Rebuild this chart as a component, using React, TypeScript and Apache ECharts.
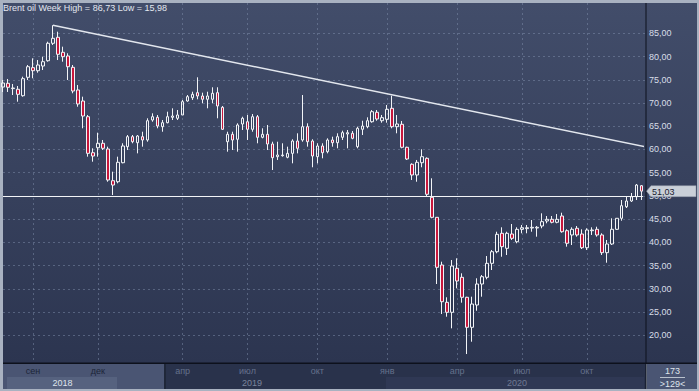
import React, { useEffect, useRef } from 'react';
import * as echarts from 'echarts';

// weekly OHLC (Brent oil)
const opens = [73.44,74.24,73.10,72.95,71.57,75.53,77.60,76.95,77.96,79.10,82.85,84.14,80.91,80.12,77.68,72.80,70.43,67.05,59.30,60.38,61.33,60.10,53.28,53.06,57.15,60.60,62.75,61.46,62.75,62.04,66.34,66.92,64.90,65.76,66.92,66.71,67.42,70.43,71.14,72.22,71.51,70.80,70.80,72.22,69.07,61.67,63.26,62.19,65.48,65.97,64.34,67.05,62.62,63.26,61.18,58.45,58.66,58.32,59.17,61.82,62.04,64.90,61.82,58.45,60.75,59.52,62.04,61.46,62.62,63.33,63.48,60.60,64.34,64.90,65.97,68.00,66.19,66.49,68.86,64.90,65.42,60.47,56.81,54.51,57.15,58.10,49.71,45.40,35.14,27.11,24.96,34.43,32.49,28.19,21.73,26.53,31.05,32.49,35.50,38.00,41.96,38.73,41.81,40.15,42.81,42.97,43.10,43.10,43.53,44.61,44.97,44.33,45.68,42.52,41.60,43.04,41.81,38.86,42.52,42.82,41.60,37.79,39.66,42.82,45.19,47.68,48.91,49.84,52.20];
const closes = [74.30,73.38,73.23,71.87,75.23,77.81,76.95,78.18,78.89,82.85,83.92,80.48,79.97,77.81,72.58,69.79,67.20,59.17,58.59,61.33,60.25,53.43,52.35,57.24,60.75,62.75,61.67,62.90,62.04,66.19,67.05,65.05,65.76,67.05,67.20,67.42,70.28,71.36,71.87,71.51,70.80,71.51,72.09,69.36,64.34,63.26,62.04,65.27,66.71,64.34,67.05,62.62,63.26,61.18,58.23,58.81,58.81,59.17,61.82,60.25,64.90,61.67,58.59,60.75,59.30,62.04,61.46,62.75,63.61,63.61,62.40,64.56,65.05,66.19,68.13,66.56,66.84,68.64,64.90,65.48,60.47,57.95,54.51,57.24,58.45,50.35,45.40,34.64,27.24,24.96,34.92,31.69,28.19,21.73,26.74,31.05,32.62,35.50,38.00,41.74,39.08,41.96,40.88,42.81,43.16,43.16,43.25,43.25,44.46,44.97,44.33,44.97,42.30,39.81,42.82,41.60,38.86,42.67,42.67,41.60,37.79,39.66,42.82,45.19,47.90,48.91,49.84,52.35,51.03];
const lows = [72.37,72.37,71.72,70.28,71.36,74.95,75.32,76.52,77.10,78.89,82.48,79.25,78.89,74.95,72.09,69.20,64.56,58.45,57.37,58.45,59.89,53.06,50.20,52.72,57.02,59.89,61.33,59.17,60.60,61.67,65.97,64.56,63.82,65.63,66.34,66.34,67.42,70.28,70.65,70.80,69.93,68.86,69.93,66.71,64.19,59.52,59.89,59.52,64.19,62.04,63.82,61.33,62.40,59.89,55.58,57.74,58.45,58.10,57.02,59.17,61.67,60.60,56.17,57.02,58.10,59.17,60.60,60.25,62.04,60.25,62.19,60.25,63.11,64.56,65.76,66.19,65.76,65.76,64.56,63.48,60.25,57.74,53.43,53.06,56.17,49.84,45.19,31.05,24.59,24.01,21.51,30.12,27.03,15.98,18.63,25.30,28.32,32.06,34.06,37.66,36.92,37.29,40.52,39.81,41.96,41.96,42.30,41.23,43.04,44.11,44.11,44.11,42.09,39.08,39.44,41.23,38.58,38.37,41.60,41.23,37.29,35.63,39.44,42.67,44.67,47.40,48.70,49.13,49.13];
const highs = [74.95,75.17,74.09,73.66,75.66,78.18,79.62,79.25,79.97,83.19,86.73,85.34,82.12,80.70,78.18,73.87,71.36,67.42,60.25,63.61,62.04,60.60,55.22,58.45,61.33,63.11,63.11,63.11,63.82,66.71,67.78,67.42,66.34,68.13,68.86,68.49,70.65,71.72,72.43,75.53,72.22,72.43,73.38,73.38,69.36,63.82,63.82,65.63,67.05,67.42,67.63,67.42,64.56,65.27,61.67,61.67,61.33,60.60,62.19,63.48,71.72,65.63,62.19,61.33,61.33,62.40,62.75,63.48,64.04,64.19,63.97,64.90,66.19,66.92,68.49,68.49,67.42,69.57,71.57,67.42,66.13,60.60,57.02,57.74,60.04,58.30,53.80,45.47,35.85,28.19,36.21,36.58,33.35,28.30,28.32,32.28,32.98,37.07,38.37,42.30,43.25,42.30,43.96,43.25,43.75,43.75,44.82,43.53,46.26,45.68,45.68,46.11,46.39,42.82,43.25,43.53,42.82,43.04,43.25,43.38,41.96,40.52,45.19,45.25,49.13,49.84,50.63,52.57,52.35];

const categories = opens.map((_, i) => String(i));
const monthTickIdx = [6, 19, 36, 49, 63, 77, 91, 104, 117];
const monthTickLabels = ['сен', 'дек', 'апр', 'июл', 'окт', 'янв', 'апр', 'июл', 'окт'];
const yearLabels = ['2018', '2019', '2020'];
const titleText = 'Brent oil Week High = 86,73 Low = 15,98';
const lastPrice = 51.03;
const levelPrice = 49.88;
const trendStart = [10, 86.73];
const trendEnd = [128.86, 60.53];
const levelStart = [0, levelPrice];
const levelEnd = [128.86, levelPrice];

const FF = "'Liberation Sans', Arial, sans-serif";

function buildGraphic(tagY: number) {
  const els: any[] = [
    { type: 'rect', id: 'frame', z: -30, silent: true, shape: { x: 0, y: 0, width: 699, height: 391 }, style: { fill: '#a9b2c1' } },
    { type: 'rect', id: 'bg', z: -29, silent: true, shape: { x: 3, y: 3, width: 694, height: 360 },
      style: { fill: new echarts.graphic.LinearGradient(0, 0, 0, 1, [{ offset: 0, color: '#424d6a' }, { offset: 1, color: '#2c3550' }]) } },
    { type: 'rect', id: 'bl', z: -28, silent: true, shape: { x: 3, y: 364, width: 161, height: 25 }, style: { fill: '#4a5573' } },
    { type: 'rect', id: 'b18', z: -27, silent: true, shape: { x: 7, y: 377, width: 110, height: 12 }, style: { fill: '#56627f' } },
    { type: 'rect', id: 'bdiv', z: -27, silent: true, shape: { x: 164, y: 364, width: 2, height: 25 }, style: { fill: '#1f2739' } },
    { type: 'rect', id: 'bdark', z: -28, silent: true, shape: { x: 166, y: 364, width: 480, height: 25 }, style: { fill: '#29324b' } },
    { type: 'rect', id: 'b20', z: -27, silent: true, shape: { x: 386, y: 377, width: 258, height: 12 }, style: { fill: '#2f3854' } },
    { type: 'rect', id: 'bright', z: -28, silent: true, shape: { x: 647, y: 364, width: 50, height: 25 }, style: { fill: '#4a5573' } },
    { type: 'rect', id: 'hline', z: -26, silent: true, shape: { x: 3, y: 362.5, width: 694, height: 1.5 }, style: { fill: '#0d111c' } },
    { type: 'rect', id: 'vline', z: -26, silent: true, shape: { x: 645.5, y: 3, width: 1, height: 386 }, style: { fill: '#0d111c' } },
    { type: 'text', id: 'y18', z: 40, silent: true, x: 62.5, y: 383, style: { text: yearLabels[0], fill: '#dfe4ec', fontSize: 9, fontFamily: FF, align: 'center', verticalAlign: 'middle' } },
    { type: 'text', id: 'y19', z: 40, silent: true, x: 252, y: 383, style: { text: yearLabels[1], fill: '#7b859b', fontSize: 9, fontFamily: FF, align: 'center', verticalAlign: 'middle' } },
    { type: 'text', id: 'y20', z: 40, silent: true, x: 517, y: 383, style: { text: yearLabels[2], fill: '#6f7a93', fontSize: 9, fontFamily: FF, align: 'center', verticalAlign: 'middle' } },
    { type: 'text', id: 'n173', z: 40, silent: true, x: 672.5, y: 371, style: { text: '173', fill: '#dfe4ec', fontSize: 9, fontFamily: FF, align: 'center', verticalAlign: 'middle' } },
    { type: 'rect', id: 'nline', z: 40, silent: true, shape: { x: 660, y: 377, width: 25, height: 1 }, style: { fill: '#b9c1cd' } },
    { type: 'text', id: 'n129', z: 40, silent: true, x: 672.5, y: 383.5, style: { text: '>129<', fill: '#dfe4ec', fontSize: 9, fontFamily: FF, align: 'center', verticalAlign: 'middle' } },
  ];
  if (isFinite(tagY)) {
    els.push({ type: 'polygon', id: 'tag', z: 50, silent: true,
      shape: { points: [[646.5, tagY], [651, tagY - 5.5], [696, tagY - 5.5], [696, tagY + 5.5], [651, tagY + 5.5]] },
      style: { fill: '#c9cfd8', stroke: '#8e97a6', lineWidth: 0.5 } });
    els.push({ type: 'text', id: 'tagt', z: 51, silent: true, x: 652, y: tagY + 0.5,
      style: { text: lastPrice.toFixed(2).replace('.', ','), fill: '#1b2130', fontSize: 9, fontFamily: FF, align: 'left', verticalAlign: 'middle' } });
  }
  return els;
}

export default function App() {
  const ref = useRef<HTMLDivElement>(null);
  useEffect(() => {
    if (!ref.current) return;
    const chart = echarts.init(ref.current, undefined, { renderer: 'svg' });
    const candleData = opens.map((o, i) => [o, closes[i], lows[i], highs[i]]);
    const isTick = (i: number) => monthTickIdx.indexOf(i) >= 0;
    const option: any = {
      animation: false,
      backgroundColor: '#a9b2c1',
      title: {
        text: titleText, left: 3, top: 3, padding: 0,
        textStyle: { fontSize: 9, color: '#e2e7ef', fontWeight: 'normal', fontFamily: FF },
      },
      grid: [
        { left: 3, right: 699 - 641.7, top: 3, bottom: 391 - 363 },
        { left: 3, right: 53, top: 10.07, bottom: 391 - 358.57 },
      ],
      xAxis: [
        {
          type: 'category', gridIndex: 0, data: categories, boundaryGap: false,
          axisLine: { show: false }, axisTick: { show: false },
          splitLine: { show: true, interval: (i: number) => isTick(i), lineStyle: { color: 'rgba(135,150,180,0.45)', type: [2, 3], width: 1 } },
          axisLabel: {
            show: true, interval: (i: number) => isTick(i), margin: 3, fontSize: 9, fontFamily: FF,
            formatter: (v: string) => { const k = monthTickIdx.indexOf(Number(v)); return k >= 0 ? monthTickLabels[k] : ''; },
            color: (v: any) => { const n = Number(v); return (n === 6 || n === 19 || v === 'сен' || v === 'дек') ? '#1c2538' : '#65718c'; },
          },
        },
        { type: 'value', gridIndex: 0, min: 0, max: opens.length - 1, show: false },
        { type: 'value', gridIndex: 1, min: 0, max: 1, show: false },
      ],
      yAxis: [
        { type: 'value', gridIndex: 0, min: 14.05, max: 91.52, show: false },
        {
          type: 'value', gridIndex: 1, min: 15, max: 90, interval: 5, position: 'right',
          axisLine: { show: false }, axisTick: { show: false },
          splitLine: { show: true, showMinLine: false, showMaxLine: false, lineStyle: { color: 'rgba(135,150,180,0.45)', type: [2, 3], width: 1 } },
          axisLabel: {
            show: true, margin: 3, fontSize: 9, fontFamily: FF, color: '#d8dee8', showMinLabel: false, showMaxLabel: false,
            formatter: (v: number) => v.toFixed(2).replace('.', ','),
          },
        },
      ],
      series: [
        {
          type: 'candlestick', xAxisIndex: 0, yAxisIndex: 0, data: candleData, barWidth: 3, clip: false, silent: true,
          itemStyle: { color: 'rgba(0,0,0,0)', color0: '#c8173c', borderColor: '#f2f4f7', borderColor0: '#f2f4f7', borderWidth: 1 },
        },
        {
          type: 'line', xAxisIndex: 1, yAxisIndex: 0, data: [trendStart, trendEnd], clip: false, silent: true,
          symbol: 'none', lineStyle: { color: '#e3e7ee', width: 1.5 }, z: 3,
        },
        {
          type: 'line', xAxisIndex: 1, yAxisIndex: 0, data: [levelStart, levelEnd], clip: false, silent: true,
          symbol: 'none', lineStyle: { color: '#f2f4f7', width: 1.2 }, z: 3,
        },
      ],
      graphic: buildGraphic(NaN),
    };
    chart.setOption(option);
    const tagY = chart.convertToPixel({ yAxisIndex: 0 } as any, lastPrice) as unknown as number;
    chart.setOption({ graphic: buildGraphic(Number(tagY)) });
    return () => chart.dispose();
  }, []);
  return <div ref={ref} style={{ position: 'fixed', left: 0, top: 0, width: 699, height: 391 }} />;
}
